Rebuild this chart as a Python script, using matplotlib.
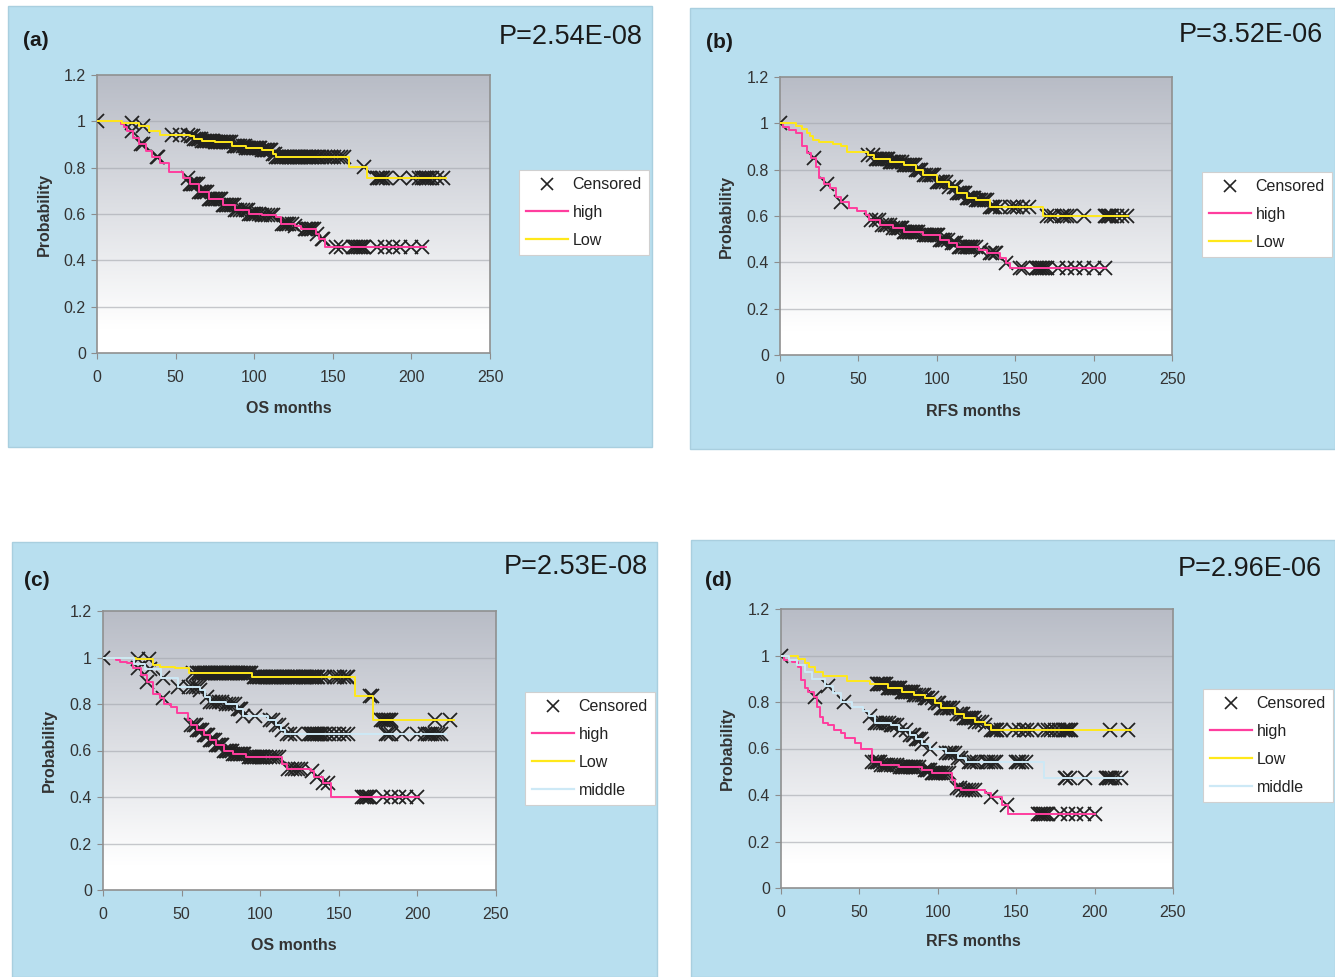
import numpy as np
import matplotlib
matplotlib.use("Agg")
import matplotlib.pyplot as plt
from matplotlib.patches import Rectangle
from matplotlib.lines import Line2D
from matplotlib.colors import LinearSegmentedColormap

plt.rcParams['font.family'] = ['Liberation Sans', 'DejaVu Sans']

# ---- data: step points (months, survival) and censored times ----
# (a) OS, two groups
a_low_t = [0, 16, 27, 33, 40, 59, 62, 67, 75, 86, 95, 105, 112, 114, 160, 172, 222]
a_low_s = [1.0, 0.994, 0.98, 0.96, 0.943, 0.935, 0.925, 0.917, 0.91, 0.895, 0.885, 0.875, 0.86, 0.845, 0.805, 0.757, 0.757]
a_low_c = [0, 22, 29, 48, 53, 58, 60, 61, 62, 63, 64, 65, 66, 67, 68, 69, 70, 71, 72, 73, 74, 75, 76, 77, 78, 79, 80,
           81, 82, 83, 84, 85, 87, 88, 89, 90, 91, 93, 94, 95, 96, 97, 98, 99, 100, 101, 102, 103, 104, 105, 106, 107,
           108, 109, 110, 111, 112, 113, 114, 115, 116, 117, 118, 119, 120, 121, 122, 123, 124, 125, 126, 127, 128, 129,
           130, 131, 132, 133, 134, 135, 136, 137, 138, 140, 141, 143, 145, 147, 149, 151, 153, 155, 157, 170, 178, 179,
           180, 181, 182, 184, 193, 201, 205, 207, 208, 209, 210, 211, 213, 216, 220]
a_high_t = [0, 15, 17, 19, 23, 27, 31, 35, 40, 46, 55, 59, 65, 71, 80, 88, 97, 105, 114, 117, 126, 130, 139, 141, 145, 209]
a_high_s = [1.0, 0.99, 0.974, 0.957, 0.93, 0.90, 0.874, 0.845, 0.82, 0.78, 0.755, 0.73, 0.695, 0.666, 0.637, 0.616, 0.60,
            0.594, 0.587, 0.558, 0.548, 0.537, 0.515, 0.494, 0.458, 0.458]
a_high_c = [22, 28, 29, 38, 39, 58, 59, 60, 61, 62, 63, 64, 65, 66, 67, 68, 69, 70, 71, 72, 73, 74, 75, 76, 77, 78, 79, 80,
            81, 82, 83, 84, 85, 86, 87, 88, 89, 91, 93, 95, 96, 97, 98, 99, 100, 101, 103, 105, 107, 109, 111, 112, 118,
            119, 120, 121, 122, 124, 126, 132, 133, 134, 135, 136, 137, 138, 140, 143, 144, 152, 155, 163, 164, 165, 166,
            167, 168, 169, 170, 178, 183, 188, 193, 200, 207]

# (b) RFS, two groups
b_low_t = [0, 10, 14, 17, 19, 21, 25, 34, 39, 43, 56, 60, 70, 79, 87, 91, 100, 108, 113, 119, 125, 134, 168, 222]
b_low_s = [1.0, 0.99, 0.975, 0.96, 0.945, 0.93, 0.92, 0.91, 0.90, 0.878, 0.863, 0.845, 0.834, 0.82, 0.80, 0.777, 0.748,
           0.727, 0.70, 0.676, 0.669, 0.64, 0.60, 0.60]
b_low_c = [0, 56, 59, 61, 62, 63, 64, 65, 66, 67, 68, 69, 70, 71, 72, 73, 74, 75, 76, 78, 79, 80, 81, 82, 83, 84, 85, 86,
           87, 88, 89, 90, 92, 93, 95, 96, 97, 98, 100, 101, 102, 103, 104, 106, 108, 111, 112, 113, 114, 115, 116, 117,
           118, 119, 120, 121, 122, 123, 124, 125, 126, 127, 128, 130, 131, 132, 134, 135, 136, 137, 140, 147, 149, 151,
           155, 159, 170, 173, 175, 180, 181, 183, 185, 194, 207, 208, 209, 210, 211, 212, 215, 218, 221]
b_high_t = [0, 2, 6, 10, 14, 17, 20, 23, 25, 28, 32, 36, 39, 44, 49, 55, 57, 64, 72, 79, 91, 102, 108, 113, 127, 132, 140,
            144, 147, 208]
b_high_s = [1.0, 0.986, 0.97, 0.957, 0.90, 0.87, 0.85, 0.813, 0.763, 0.74, 0.72, 0.683, 0.662, 0.633, 0.623, 0.604, 0.583,
            0.561, 0.547, 0.532, 0.518, 0.496, 0.482, 0.468, 0.453, 0.439, 0.417, 0.396, 0.377, 0.377]
b_high_c = [22, 30, 39, 58, 61, 63, 65, 67, 68, 70, 72, 74, 75, 76, 77, 78, 79, 80, 81, 82, 83, 84, 85, 86, 87, 88, 92, 93,
            94, 95, 96, 97, 98, 99, 100, 101, 102, 103, 104, 105, 107, 110, 111, 112, 114, 115, 116, 118, 119, 120, 121,
            122, 123, 125, 128, 134, 135, 137, 138, 144, 153, 155, 163, 164, 165, 166, 167, 168, 169, 170, 177, 183, 188,
            194, 200, 207]

# (c) OS, three groups
c_low_t = [0, 21, 32, 36, 46, 55, 95, 160, 172, 223]
c_low_s = [1.0, 0.995, 0.967, 0.96, 0.953, 0.935, 0.917, 0.834, 0.733, 0.733]
c_low_c = [0, 22, 29, 57, 60, 61, 62, 63, 64, 65, 66, 67, 68, 69, 70, 71, 72, 73, 74, 75, 76, 77, 78, 79, 80, 81, 82, 83,
           84, 85, 86, 87, 88, 89, 90, 91, 92, 93, 94, 96, 97, 98, 99, 100, 101, 102, 103, 104, 105, 106, 107, 108, 109,
           110, 111, 112, 113, 114, 115, 116, 117, 118, 119, 120, 121, 122, 123, 124, 125, 127, 128, 129, 130, 131, 132,
           133, 134, 135, 136, 137, 139, 141, 147, 149, 151, 153, 155, 156, 170, 171, 177, 178, 179, 180, 181, 182, 183,
           211, 221]
c_high_t = [0, 8, 11, 15, 19, 24, 28, 32, 36, 39, 43, 47, 54, 56, 60, 64, 68, 72, 77, 83, 91, 114, 117, 132, 134, 140,
            145, 201]
c_high_s = [1.0, 0.99, 0.98, 0.975, 0.953, 0.925, 0.895, 0.845, 0.824, 0.80, 0.788, 0.76, 0.73, 0.71, 0.687, 0.666,
            0.645, 0.623, 0.60, 0.587, 0.573, 0.544, 0.52, 0.51, 0.487, 0.46, 0.40, 0.40]
c_high_c = [22, 28, 38, 56, 58, 59, 60, 61, 62, 63, 64, 65, 66, 67, 68, 69, 70, 71, 72, 73, 74, 75, 76, 77, 78, 79, 80,
            81, 82, 83, 84, 85, 86, 87, 88, 89, 90, 93, 94, 95, 96, 97, 98, 99, 100, 101, 102, 104, 106, 108, 110, 112,
            118, 120, 122, 124, 126, 133, 136, 140, 143, 165, 166, 167, 168, 169, 170, 178, 183, 188, 193, 200]
c_mid_t = [0, 20, 27, 37, 48, 62, 65, 68, 78, 85, 89, 105, 110, 113, 116, 218]
c_mid_s = [1.0, 0.97, 0.95, 0.91, 0.875, 0.86, 0.83, 0.81, 0.80, 0.78, 0.75, 0.73, 0.71, 0.69, 0.67, 0.67]
c_mid_c = [30, 38, 48, 55, 57, 59, 61, 62, 66, 68, 70, 72, 74, 76, 78, 80, 82, 84, 86, 87, 88, 89, 97, 106, 108, 110, 112,
           114, 117, 119, 122, 131, 132, 133, 134, 135, 136, 137, 138, 139, 141, 144, 147, 150, 153, 156, 180, 181, 183,
           190, 200, 205, 207, 208, 209, 211, 213, 215]

# (d) RFS, three groups
d_low_t = [0, 11, 15, 18, 22, 27, 42, 57, 68, 77, 85, 92, 98, 102, 111, 117, 124, 130, 134, 223]
d_low_s = [1.0, 0.985, 0.966, 0.95, 0.93, 0.91, 0.89, 0.876, 0.86, 0.845, 0.83, 0.816, 0.794, 0.773, 0.75, 0.73, 0.715,
           0.70, 0.68, 0.68]
d_low_c = [0, 61, 62, 63, 64, 65, 66, 67, 68, 69, 70, 71, 72, 73, 74, 75, 76, 77, 78, 79, 80, 81, 82, 83, 84, 85, 86, 88,
           90, 91, 92, 93, 94, 96, 98, 100, 101, 102, 103, 104, 106, 107, 108, 110, 112, 114, 115, 116, 117, 118, 119,
           120, 121, 122, 123, 124, 126, 128, 130, 134, 135, 136, 137, 138, 140, 148, 152, 155, 157, 160, 168, 170, 172,
           175, 177, 180, 181, 182, 183, 184, 185, 210, 221]
d_high_t = [0, 2, 7, 11, 13, 15, 17, 21, 23, 25, 27, 30, 34, 38, 41, 47, 51, 58, 64, 75, 90, 96, 109, 111, 115, 130, 134,
            141, 145, 200]
d_high_s = [1.0, 0.98, 0.973, 0.952, 0.895, 0.86, 0.845, 0.823, 0.78, 0.737, 0.708, 0.70, 0.68, 0.665, 0.644, 0.622, 0.60,
            0.544, 0.53, 0.522, 0.508, 0.493, 0.465, 0.43, 0.42, 0.407, 0.393, 0.357, 0.32, 0.32]
d_high_c = [22, 58, 60, 61, 62, 63, 64, 66, 67, 68, 70, 72, 74, 76, 77, 78, 79, 80, 81, 82, 83, 84, 85, 86, 88, 92, 93,
            94, 95, 96, 97, 98, 99, 100, 101, 102, 103, 105, 107, 112, 114, 116, 118, 120, 122, 124, 134, 144, 164, 165,
            166, 167, 168, 169, 170, 178, 183, 188, 193, 200]
d_mid_t = [0, 5, 10, 15, 20, 28, 33, 38, 45, 52, 56, 60, 70, 75, 82, 86, 90, 95, 105, 113, 118, 168, 218]
d_mid_s = [1.0, 0.98, 0.96, 0.93, 0.90, 0.87, 0.84, 0.80, 0.78, 0.76, 0.74, 0.71, 0.70, 0.68, 0.66, 0.64, 0.62, 0.60, 0.58,
           0.56, 0.54, 0.475, 0.475]
d_mid_c = [30, 40, 57, 60, 61, 63, 65, 67, 69, 70, 71, 72, 74, 76, 80, 82, 84, 85, 86, 87, 88, 89, 90, 95, 105, 107, 108,
           109, 111, 113, 115, 120, 121, 123, 125, 131, 132, 134, 136, 137, 150, 151, 152, 154, 156, 181, 182, 184, 194,
           207, 208, 209, 210, 211, 213, 217]

p_values = ['P=2.54E-08', 'P=3.52E-06', 'P=2.53E-08', 'P=2.96E-06']
tags = ['(a)', '(b)', '(c)', '(d)']
xlabels = ['OS months', 'RFS months', 'OS months', 'RFS months']
x_ticks = [0, 50, 100, 150, 200, 250]
y_ticks = [0, 0.2, 0.4, 0.6, 0.8, 1.0, 1.2]
y_ticklabels = ['0', '0.2', '0.4', '0.6', '0.8', '1', '1.2']

PINK = '#ff3d9e'
YELLOW = '#ffe81a'
MIDDLE = '#cde9f6'
BLUE_BG = '#b8dfef'

groups = [
    [('high', a_high_t, a_high_s, a_high_c, PINK), ('Low', a_low_t, a_low_s, a_low_c, YELLOW)],
    [('high', b_high_t, b_high_s, b_high_c, PINK), ('Low', b_low_t, b_low_s, b_low_c, YELLOW)],
    [('high', c_high_t, c_high_s, c_high_c, PINK), ('Low', c_low_t, c_low_s, c_low_c, YELLOW),
     ('middle', c_mid_t, c_mid_s, c_mid_c, MIDDLE)],
    [('high', d_high_t, d_high_s, d_high_c, PINK), ('Low', d_low_t, d_low_s, d_low_c, YELLOW),
     ('middle', d_mid_t, d_mid_s, d_mid_c, MIDDLE)],
]

# ---- layout in pixels ----
W, H = 1335, 977
layout = [
    dict(box=(8, 6, 652, 447), ax=(97, 75, 490, 353), tag=(23, 40), p=(643, 37), xl=(289, 409), yl=(44, 214), leg=(519, 170)),
    dict(box=(690, 8, 1335, 449), ax=(780, 77, 1172, 355), tag=(706, 42), p=(1323, 35), xl=(973, 411), yl=(726, 216), leg=(1202, 172)),
    dict(box=(12, 542, 657, 977), ax=(103, 611, 496, 890), tag=(24, 580), p=(648, 567), xl=(294, 945), yl=(49, 750), leg=(525, 692)),
    dict(box=(691, 540, 1335, 977), ax=(781, 609, 1173, 888), tag=(705, 580), p=(1322, 569), xl=(973, 942), yl=(727, 748), leg=(1203, 689)),
]

def fx(x):
    return x / W

def fy(y):
    return 1 - y / H

grad_cmap = LinearSegmentedColormap.from_list('bg', [(0, '#ffffff'), (0.09, '#ffffff'), (1, '#b8bcc6')])
grad = np.linspace(0, 1, 256).reshape(-1, 1)

fig = plt.figure(figsize=(13.35, 9.77), dpi=100)

for i, L in enumerate(layout):
    x0, y0, x1, y1 = L['box']
    fig.add_artist(Rectangle((fx(x0), fy(y1)), fx(x1 - x0), (y1 - y0) / H, transform=fig.transFigure,
                             facecolor=BLUE_BG, edgecolor='#a9cfdf', lw=1, zorder=0))

    ax0, ay0, ax1, ay1 = L['ax']
    ax = fig.add_axes([fx(ax0), fy(ay1), fx(ax1 - ax0), (ay1 - ay0) / H])
    ax.imshow(grad, extent=[0, 250, 0, 1.2], origin='lower', aspect='auto', cmap=grad_cmap, zorder=0)
    ax.set_xlim(0, 250)
    ax.set_ylim(0, 1.2)
    for yv in y_ticks[1:-1]:
        ax.axhline(yv, color='#a3a6ad', lw=1, alpha=0.6, zorder=1)
    ax.set_xticks(x_ticks)
    ax.set_yticks(y_ticks, y_ticklabels)
    ax.tick_params(direction='out', length=4, color='#8c8c8c', labelcolor='#333333', labelsize=11.5)
    ax.tick_params(axis='x', pad=8)
    ax.tick_params(axis='y', pad=4)
    for sp in ax.spines.values():
        sp.set_color('#909090')
        sp.set_linewidth(1.2)

    handles = [Line2D([], [], ls='none', marker='x', color='#222222', ms=8, mew=1.2)]
    labels = ['Censored']
    for name, t, s, c, col in groups[i]:
        t = np.array(t)
        s = np.array(s)
        c = np.array(c)
        idx = np.searchsorted(t, c, side='right') - 1
        ax.plot(c, s[idx], ls='none', marker='x', color='#222222', ms=10.5, mew=1.3, zorder=3)
        ax.step(t, s, where='post', color=col, lw=1.4, zorder=4)
        handles.append(Line2D([], [], color=col, lw=1.6))
        labels.append(name)

    lx, ly = L['leg']
    leg = ax.legend(handles, labels, loc='upper left', bbox_to_anchor=(fx(lx), fy(ly)), bbox_transform=fig.transFigure,
                    borderaxespad=0, frameon=True, fancybox=False, framealpha=1, edgecolor='#d0d0d0',
                    fontsize=11.5, handlelength=2.6, handletextpad=0.3, labelspacing=0.8, borderpad=0.45)
    leg.get_frame().set_linewidth(0.8)
    for txt in leg.get_texts():
        txt.set_color('#222222')

    tx, ty = L['tag']
    fig.text(fx(tx), fy(ty), tags[i], ha='left', va='center', fontsize=15, fontweight='bold', color='#1a1a1a')
    px, py = L['p']
    fig.text(fx(px), fy(py), p_values[i], ha='right', va='center', fontsize=19.5, color='#1a1a1a')
    xx, xy = L['xl']
    fig.text(fx(xx), fy(xy), xlabels[i], ha='center', va='center', fontsize=11.5, fontweight='bold', color='#333333')
    yx, yy = L['yl']
    fig.text(fx(yx), fy(yy), 'Probability', ha='center', va='center', rotation=90, fontsize=11.5,
             fontweight='bold', color='#333333')

fig.savefig('out.png', dpi=100, facecolor='white')
